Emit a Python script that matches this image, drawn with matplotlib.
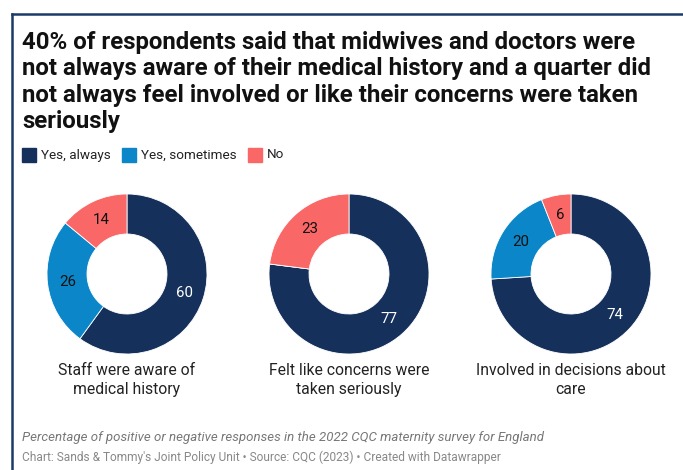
import matplotlib
matplotlib.use("Agg")
import matplotlib.pyplot as plt
from matplotlib.patches import Rectangle
from matplotlib.lines import Line2D

plt.rcParams['font.family'] = ['Roboto', 'DejaVu Sans']

series = ["Yes, always", "Yes, sometimes", "No"]
colors = ["#15305a", "#0b86c8", "#f96767"]
categories = ["Staff were aware of\nmedical history",
              "Felt like concerns were\ntaken seriously",
              "Involved in decisions about\ncare"]
yes_always = [60, 77, 74]
yes_sometimes = [26, 0, 20]
no = [14, 23, 6]

W, H = 683, 470
fig = plt.figure(figsize=(W / 100, H / 100), dpi=100)

def fx(x):
    return x / W

def fy(y):
    return 1 - y / H

# frame lines
fig.add_artist(Line2D([fx(12), fx(12)], [fy(14), 0], color="#1b3a6b", lw=1.8))
fig.add_artist(Line2D([fx(12), 1], [fy(14), fy(14)], color="#1b3a6b", lw=1.8))

title = ("40% of respondents said that midwives and doctors were\n"
         "not always aware of their medical history and a quarter did\n"
         "not always feel involved or like their concerns were taken\n"
         "seriously")
fig.text(fx(22), fy(31), title, fontsize=17.3, fontweight="bold", color="#111111",
         va="top", ha="left", linespacing=1.19)

# legend
lx = [22, 122, 248]
for x, s, c in zip(lx, series, colors):
    fig.add_artist(Rectangle((fx(x), fy(162)), fx(14), 14 / H, color=c, transform=fig.transFigure))
    fig.text(fx(x + 19), fy(155), s, fontsize=9.7, color="#222222", va="center", ha="left")

centers = [127, 349, 571]
cy = 274
R = 80
for i, cx in enumerate(centers):
    ax = fig.add_axes([fx(cx - R), fy(cy + R), 2 * R / W, 2 * R / H])
    vals = [yes_always[i], yes_sometimes[i], no[i]]
    wedges, texts = ax.pie(vals, colors=colors, startangle=90, counterclock=False,
                           radius=1, wedgeprops=dict(width=0.5, edgecolor="white", linewidth=0.6),
                           labels=[str(v) if v > 0 else "" for v in vals], labeldistance=0.75)
    for t, v, c in zip(texts, vals, ["white", "#111111", "#111111"]):
        t.set_color(c)
        t.set_fontsize(10.8)
        t.set_ha("center")
        t.set_va("center")
    ax.set_xlim(-1, 1)
    ax.set_ylim(-1, 1)
    ax.set_aspect("equal")
    ax.axis("off")
    fig.text(fx(cx), fy(363), categories[i], fontsize=11.3, color="#222222",
             ha="center", va="top", linespacing=1.3)

fig.text(fx(22), fy(437), "Percentage of positive or negative responses in the 2022 CQC maternity survey for England",
         fontsize=9.5, style="italic", color="#777777", va="center", ha="left")
fig.text(fx(22), fy(457), "Chart: Sands & Tommy's Joint Policy Unit \u2022 Source: CQC (2023) \u2022 Created with Datawrapper",
         fontsize=8.6, color="#888888", va="center", ha="left")

fig.savefig("out.png", dpi=100)
